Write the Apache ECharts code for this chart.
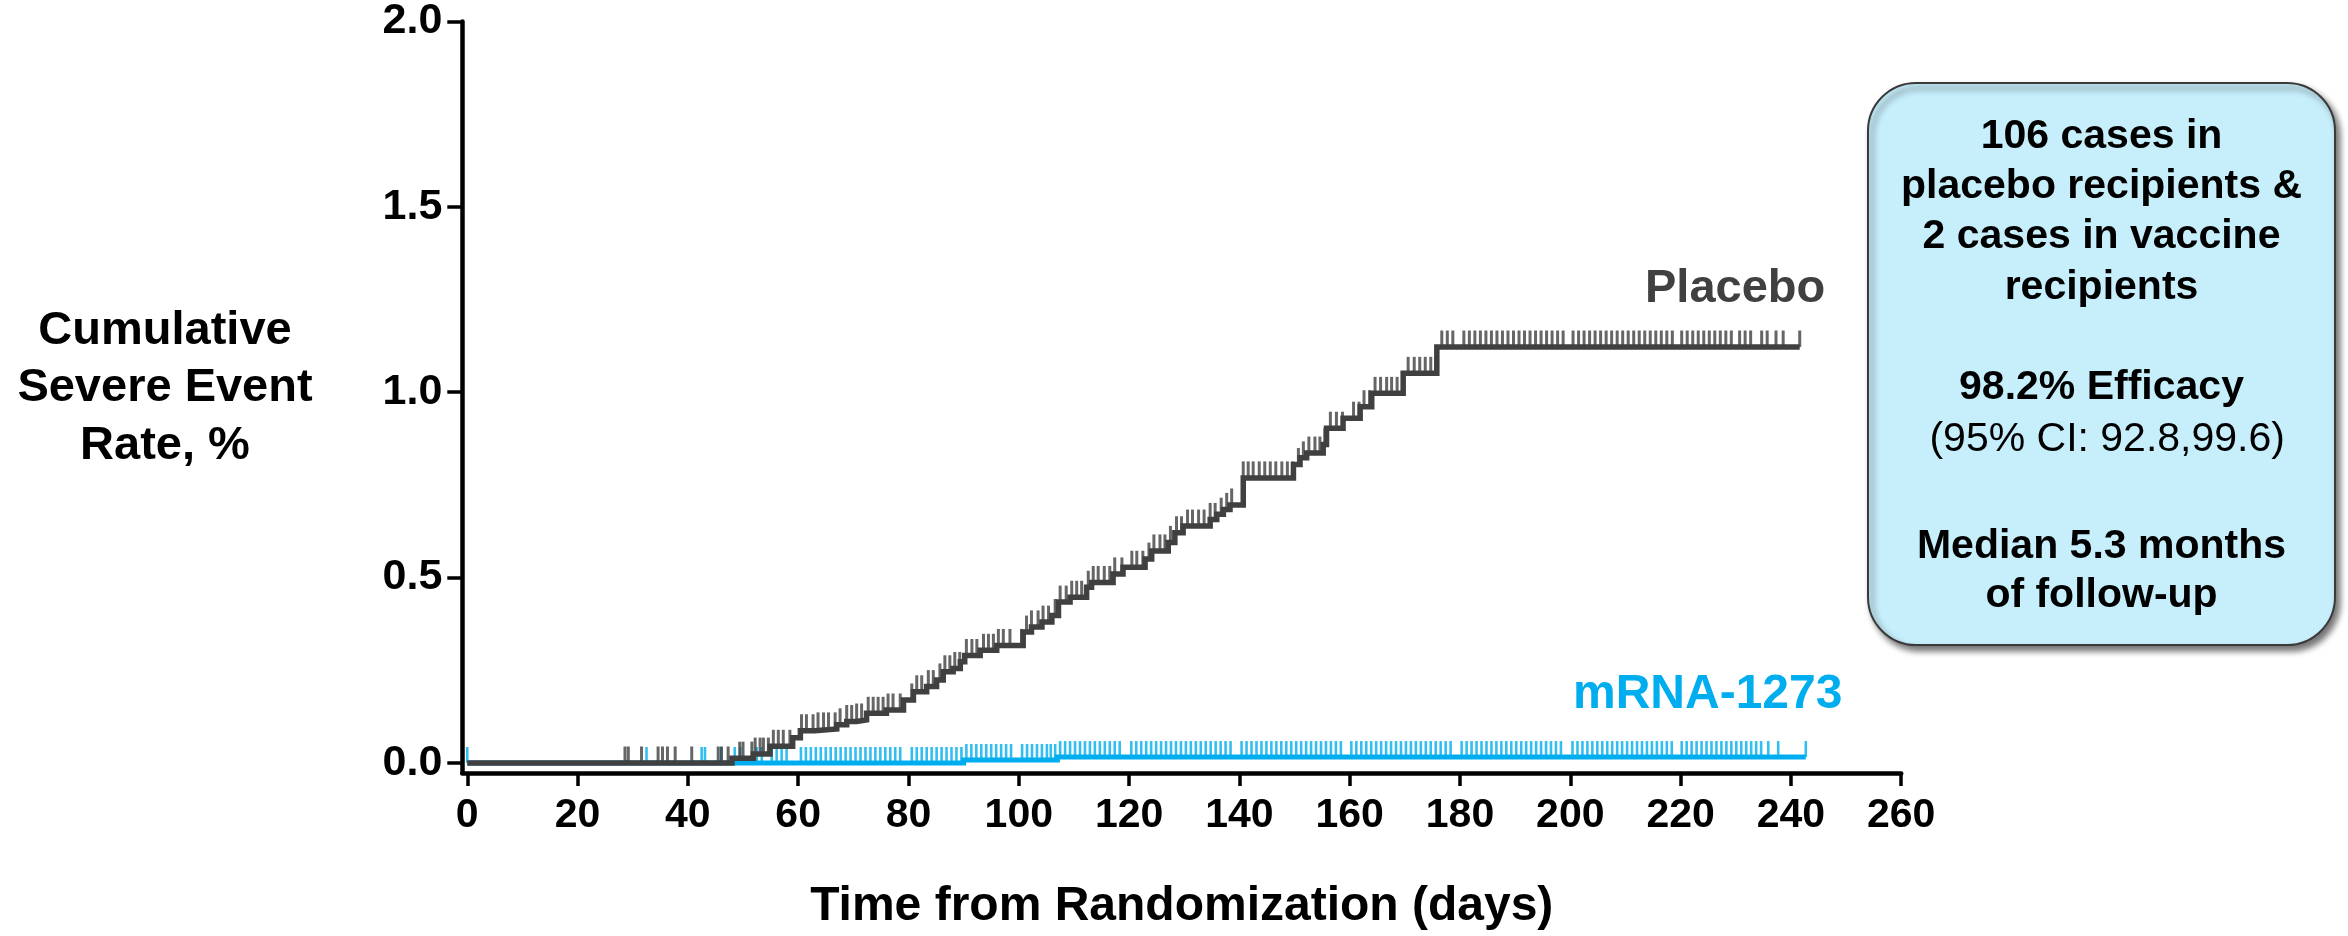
<!DOCTYPE html>
<html>
<head>
<meta charset="utf-8">
<script src="https://cdn.jsdelivr.net/npm/echarts@6/dist/echarts.min.js"></script>
<style>
html,body{margin:0;padding:0;background:#fff;}
#chart{width:2348px;height:936px;}
</style>
</head>
<body>
<div id="chart"></div>
<script>
// ---- data ----
const xTicks = [0, 20, 40, 60, 80, 100, 120, 140, 160, 180, 200, 220, 240, 260];
const yTicks = [0, 0.5, 1.0, 1.5, 2.0];

// Placebo Kaplan-Meier steps (day, cumulative %)
const placeboDays = [0, 48.0, 51.9, 54.9, 59.0, 60.4, 63.0, 67.0, 68.8, 70.6, 72.4, 76.0, 79.1, 80.9, 83.3, 85.1, 86.3, 88.1, 89.4, 90.2, 93.0, 96.0, 100.8, 102.3, 104.2, 106.0, 107.2, 109.3, 112.3, 113.2, 117.1, 118.9, 122.9, 124.1, 127.1, 128.3, 129.8, 134.7, 135.9, 137.1, 138.3, 140.7, 149.8, 151.0, 152.2, 155.2, 155.8, 158.8, 161.9, 164.0, 169.7, 175.8, 241.6];
const placeboRates = [0, 0.013, 0.024, 0.045, 0.068, 0.087, 0.092, 0.103, 0.112, 0.116, 0.134, 0.143, 0.170, 0.192, 0.206, 0.224, 0.246, 0.255, 0.273, 0.290, 0.304, 0.317, 0.353, 0.367, 0.380, 0.398, 0.434, 0.447, 0.474, 0.487, 0.510, 0.528, 0.550, 0.572, 0.595, 0.621, 0.639, 0.657, 0.671, 0.684, 0.696, 0.769, 0.805, 0.823, 0.836, 0.859, 0.903, 0.930, 0.961, 0.997, 1.051, 1.122, 1.122];

// mRNA-1273 steps
const vaccineDays = [0, 90.0, 107.0, 242.7];
const vaccineRates = [0, 0.008, 0.016, 0.016];

// Censoring times (tick marks)
const placeboCensor = [28.6, 29.2, 31.6, 34.6, 35.4, 36.3, 37.7, 40.7, 45.5, 46.1, 47.3,
  49.4, 50.0, 51.6, 52.2, 53.1, 53.7, 54.6, 55.5, 56.4, 57.3, 58.5, 60.6, 61.5, 62.7, 63.6, 64.6, 65.5, 66.7, 67.6, 68.8, 69.7, 70.6, 71.5, 72.7, 73.6, 74.5, 75.4, 76.3, 77.2, 78.5, 80.6, 81.5, 82.4, 83.6, 84.5, 85.7, 86.6, 87.5, 88.4, 89.3,
  90.5, 91.5, 92.4, 93.6, 94.5, 95.4, 96.3, 97.2, 98.4, 100.5, 101.4, 102.3, 103.5, 104.4, 105.4, 106.6, 107.5, 108.6, 109.6, 110.5, 111.4, 112.6, 113.5, 114.4, 115.5, 116.5, 117.4, 118.7, 120.5, 121.4, 122.5, 123.6, 124.5, 125.6, 126.5, 127.5, 128.6, 129.5, 130.6, 131.5, 132.6, 133.6, 134.7, 135.6, 136.7, 137.7,
  138.6, 140.7, 141.6, 142.5, 143.6, 144.6, 145.6, 146.6, 147.7, 148.7, 149.7, 150.7, 151.6, 152.6, 153.7, 154.6, 155.5, 156.5, 157.6, 158.7, 160.7, 161.7, 162.6, 163.6, 164.6, 165.6, 166.7, 167.6, 168.6, 169.6, 170.6, 171.7, 172.7, 173.7, 174.7, 175.6, 176.7, 177.7, 178.7, 180.7, 181.7,
  182.7, 183.7, 184.7, 185.7, 186.7, 187.7, 188.7, 189.7, 190.7, 191.7, 192.7, 193.7, 194.7, 195.7, 196.7, 197.7, 198.7,
  200.5, 201.5, 202.5, 203.5, 204.5, 205.5, 206.5, 207.5, 208.5, 209.5, 210.5, 211.5, 212.5, 213.5, 214.5, 215.5, 216.5, 217.5, 218.5,
  220.2, 221.2, 222.2, 223.2, 224.2, 225.2, 226.2, 227.2, 228.2, 229.2, 230.7, 231.7, 232.7, 234.7, 235.7, 237.3, 238.6, 241.6];

const vaccineCensor = [0, 32.5, 42.5, 43.1, 46.0, 48.5, 49.5, 52.5, 53.4, 55.2, 56.1, 57.0, 57.9,
  60.5, 61.4, 62.3, 63.2, 64.1, 65.0, 65.9, 66.8, 67.7, 68.6, 69.5, 70.4, 71.3, 72.2, 73.1, 74.0, 74.9, 75.8, 76.7, 77.6, 78.5,
  80.6, 81.5, 82.4, 83.3, 84.2, 85.1, 86.0, 86.9, 87.8, 88.7,
  89.6, 90.5, 91.4, 92.3, 93.2, 94.1, 95.0, 95.9, 96.8, 97.7, 98.6,
  100.6, 101.5, 102.4, 103.3, 104.2, 105.1, 105.8,
  106.6, 107.5, 108.4, 109.3, 110.2, 111.1, 112.0, 112.9, 113.8, 114.7, 115.6, 116.5, 117.4, 118.3,
  120.4, 121.3, 122.2, 123.1, 124.0, 124.9, 125.8, 126.7, 127.6, 128.5, 129.4, 130.3, 131.2, 132.1, 133.0, 133.9, 134.8, 135.7, 136.6, 137.5, 138.4,
  140.4, 141.3, 142.2, 143.1, 144.0, 144.9, 145.8, 146.7, 147.6, 148.5, 149.4, 150.3, 151.2, 152.1, 153.0, 153.9, 154.8, 155.7, 156.6, 157.5, 158.4,
  160.3, 161.2, 162.1, 163.0, 163.9, 164.8, 165.7, 166.6, 167.5, 168.4, 169.3, 170.2, 171.1, 172.0, 172.9, 173.8, 174.7, 175.6, 176.5, 177.4, 178.3,
  180.3, 181.2, 182.1, 183.0, 183.9, 184.8, 185.7, 186.6, 187.5, 188.4, 189.3, 190.2, 191.1, 192.0, 192.9, 193.8, 194.7, 195.6, 196.5, 197.4, 198.3,
  200.4, 201.3, 202.2, 203.1, 204.0, 204.9, 205.8, 206.7, 207.6, 208.5, 209.4, 210.3, 211.2, 212.1, 213.0, 213.9, 214.8, 215.7, 216.6, 217.5, 218.4,
  220.2, 221.1, 222.0, 222.9, 223.8, 224.7, 225.6, 226.5, 227.4, 228.3, 229.2, 230.1, 231.0, 231.9, 232.8, 233.7, 234.6,
  235.9, 237.7, 242.7];

const boxLines = [
  {t: '106 cases in', w: 'bold'},
  {t: 'placebo recipients &', w: 'bold'},
  {t: '2 cases in vaccine', w: 'bold'},
  {t: 'recipients', w: 'bold'},
  {t: '98.2% Efficacy', w: 'bold'},
  {t: ' (95% CI: 92.8,99.6)', w: 'normal'},
  {t: 'Median 5.3 months', w: 'bold'},
  {t: 'of follow-up', w: 'bold'}
];

// ---- helpers ----
const FONT = '"Liberation Sans", Arial, Helvetica, sans-serif';
const GRAY = '#404040';
const BLUE = '#00AEEF';

function rateAt(days, rates, t) {
  let v = rates[0];
  for (let i = 0; i < days.length; i++) { if (days[i] <= t) v = rates[i]; }
  return v;
}
const zip = (a, b) => a.map((d, i) => [d, b[i]]);

const chart = echarts.init(document.getElementById('chart'), null, {renderer: 'canvas'});

const boxY = [137, 187, 237, 288, 388, 439.5, 546.5, 596];
const boxGraphics = boxLines.map((l, i) => ({
  type: 'text', z: 20,
  style: {
    x: 2101.5, y: boxY[i], text: l.t, align: 'center', verticalAlign: 'middle',
    font: l.w + ' 41px ' + FONT, fill: '#000'
  }
}));

chart.setOption({
  animation: false,
  backgroundColor: '#fff',
  grid: {left: 462.3, right: 446.8, top: 17.9, bottom: 162.7, containLabel: false},
  xAxis: {
    type: 'value', min: -0.9, max: 260,
    axisLine: {show: true, onZero: false, lineStyle: {color: '#000', width: 4.5}},
    axisTick: {show: true, customValues: xTicks, length: 13, lineStyle: {color: '#000', width: 3.5}},
    axisLabel: {show: true, customValues: xTicks, fontSize: 41, fontWeight: 'bold', color: '#000', fontFamily: FONT, margin: 22},
    splitLine: {show: false},
    name: 'Time from Randomization (days)',
    nameLocation: 'middle', nameGap: 110,
    nameTextStyle: {fontSize: 48, fontWeight: 'bold', color: '#000', fontFamily: FONT}
  },
  yAxis: {
    type: 'value', min: -0.027, max: 2.0,
    axisLine: {show: true, onZero: false, lineStyle: {color: '#000', width: 4.5}},
    axisTick: {show: true, customValues: yTicks, length: 15, lineStyle: {color: '#000', width: 3.5}},
    axisLabel: {show: true, customValues: yTicks, fontSize: 43, fontWeight: 'bold', color: '#000', fontFamily: FONT, margin: 20,
      formatter: v => v.toFixed(1)},
    splitLine: {show: false}
  },
  graphic: [
    {type: 'text', z: 20, style: {x: 165, y: 388.5, text: 'Cumulative\nSevere Event\nRate, %', align: 'center', verticalAlign: 'middle',
      font: 'bold 47px ' + FONT, lineHeight: 57.5, fill: '#000'}},
    {type: 'text', z: 20, style: {x: 1645, y: 289.5, text: 'Placebo', align: 'left', verticalAlign: 'middle',
      font: 'bold 47px ' + FONT, fill: GRAY}},
    {type: 'text', z: 20, style: {x: 1573, y: 694.5, text: 'mRNA-1273', align: 'left', verticalAlign: 'middle',
      font: 'bold 48px ' + FONT, fill: BLUE}},
    {type: 'rect', z: 10, shape: {x: 1868, y: 83, width: 467, height: 562, r: 48},
      style: {fill: '#C6EEFB', stroke: '#3a3a3a', lineWidth: 2, shadowBlur: 6, shadowOffsetX: 4, shadowOffsetY: 5, shadowColor: 'rgba(0,0,0,0.55)'}}
  ].concat(boxGraphics),
  series: [
    {
      name: 'mRNA-1273', type: 'line', step: 'end', z: 2, showSymbol: false, silent: true,
      data: zip(vaccineDays, vaccineRates),
      lineStyle: {color: BLUE, width: 5, join: 'miter'}
    },
    {
      name: 'mRNA-1273 censored', type: 'scatter', z: 3, silent: true,
      data: vaccineCensor.map(d => [d, rateAt(vaccineDays, vaccineRates, d)]),
      symbol: 'rect', symbolSize: [2.6, 16], symbolOffset: [0, -8],
      itemStyle: {color: BLUE}
    },
    {
      name: 'Placebo', type: 'line', step: 'end', z: 4, showSymbol: false, silent: true,
      data: zip(placeboDays, placeboRates),
      lineStyle: {color: GRAY, width: 5.5, join: 'miter'}
    },
    {
      name: 'Placebo censored', type: 'scatter', z: 5, silent: true,
      data: placeboCensor.map(d => [d, rateAt(placeboDays, placeboRates, d)]),
      symbol: 'rect', symbolSize: [3, 16.5], symbolOffset: [0, -8.25],
      itemStyle: {color: GRAY}
    }
  ]
});
</script>
</body>
</html>
